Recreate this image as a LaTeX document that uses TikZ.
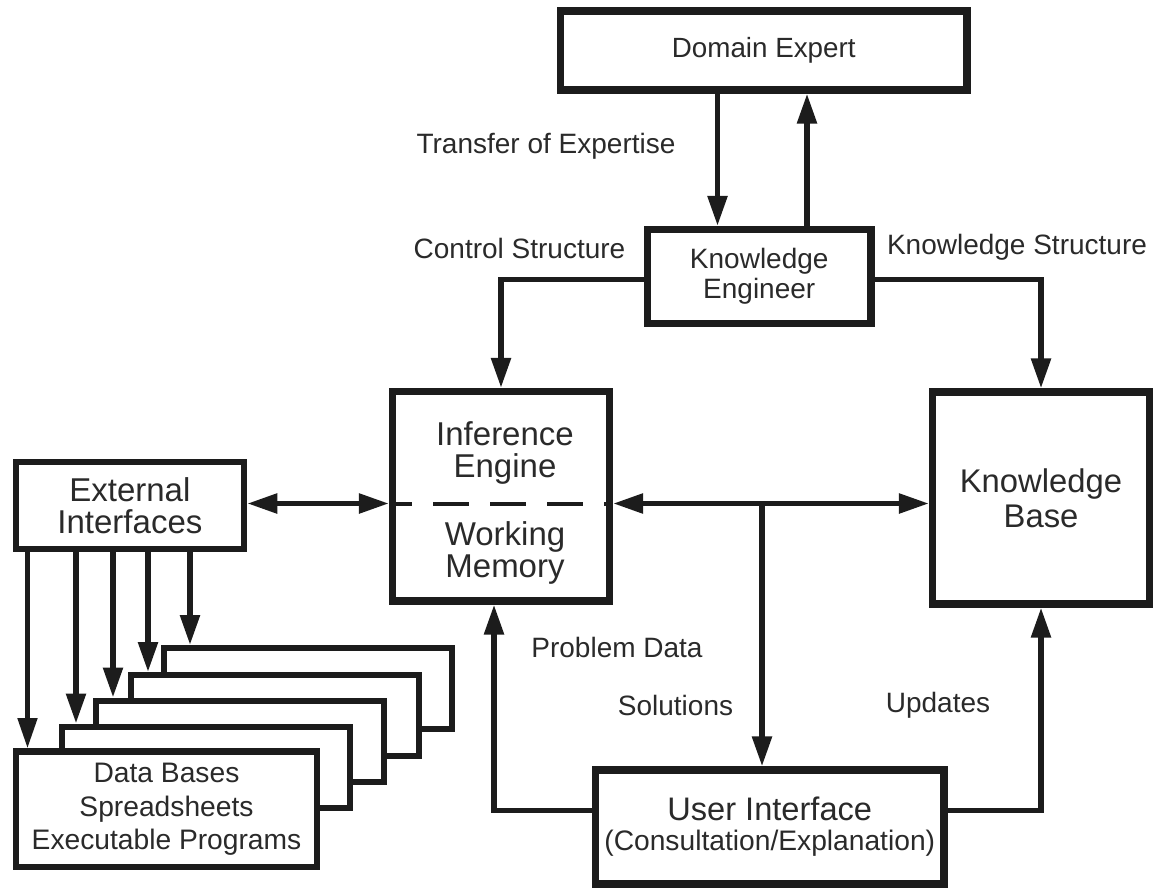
\documentclass[tikz,border=0pt]{standalone}
\usepackage{fontspec}
\setmainfont{Liberation Sans}
\usetikzlibrary{arrows.meta}
\definecolor{ink}{HTML}{1C1C1C}
\definecolor{txt}{HTML}{2A2A2A}

\begin{document}
\begin{tikzpicture}[x=0.5pt,y=-0.5pt,
  every node/.style={text=txt},
  box/.style={draw=ink, line width=3.6pt, fill=white, inner sep=0pt, align=center},
  stackbox/.style={draw=ink, line width=3pt, fill=white, inner sep=0pt, align=center},
  conn/.style={draw=ink, line width=2.75pt, -{Triangle[length=15pt,width=9.5pt]}},
  biconn/.style={draw=ink, line width=2.75pt, {Triangle[length=15pt,width=9.5pt]}-{Triangle[length=15pt,width=9.5pt]}},
  lbl/.style={anchor=base, inner sep=0pt, font=\fontsize{14}{15}\selectfont},
  bigtext/.style={anchor=base, inner sep=0pt, align=center, font=\fontsize{16.5}{16}\selectfont},
]
\useasboundingbox (0,0) rectangle (1160,888);

% ---- main boxes ----
\node[box, minimum width=203.25pt, minimum height=39.5pt,
      font=\fontsize{13.9}{15}\selectfont] (DE) at (763.75,50.5) {Domain Expert};
\node[box, minimum width=111.75pt, minimum height=47pt,
      font=\fontsize{14}{15}\selectfont] (KE) at (759.25,276.5) {Knowledge\\Engineer};
\node[box, minimum width=108.5pt, minimum height=104.75pt] (IE) at (501,496.25) {};
\node[box, minimum width=108.5pt, minimum height=106pt,
      font=\fontsize{16.4}{17.5}\selectfont] (KB) at (1041,498) {Knowledge\\Base};
\node[box, line width=3pt, minimum width=114.4pt, minimum height=43.25pt,
      font=\fontsize{16.5}{16}\selectfont] (EI) at (129.9,505.25) {External\\Interfaces};
\node[box, minimum width=174.25pt, minimum height=57pt,
      font=\fontsize{14.1}{15}\selectfont] (UI) at (769.75,827)
      {{\fontsize{16.3}{15}\selectfont User Interface}\\(Consultation/Explanation)};

% ---- stacked external resources, back to front ----
\node[stackbox, minimum width=144pt, minimum height=40.5pt] (B5) at (307.5,688.5) {};
\node[stackbox, minimum width=144pt, minimum height=40.5pt] (B4) at (274.5,715.5) {};
\node[stackbox, minimum width=144pt, minimum height=40.5pt] (B3) at (240,741) {};
\node[stackbox, minimum width=144pt, minimum height=40.5pt] (B2) at (205.5,767) {};
\node[stackbox, line width=3.3pt, minimum width=150.5pt, minimum height=57.75pt,
      font=\fontsize{14.1}{16.75}\selectfont] (FB) at (166.5,809.25)
      {Data Bases\\Spreadsheets\\Executable Programs};

% ---- inference engine / working memory split ----
\coordinate (row) at (762,503.5);
\draw[ink, line width=2pt, dash pattern=on 18pt off 10.5pt, dash phase=6.45pt]
  (IE.west |- row) -- (IE.east |- row);
\node[bigtext] (IEtop) at (505,477) {Inference\\Engine};
\node[bigtext] (IEbot) at (505,577) {Working\\Memory};

% ---- routing coordinates ----
\coordinate (down) at (717.5,0);
\coordinate (upc) at (807,0);
\coordinate (branch) at (0,279.5);
\coordinate (pd) at (494,810.5);
\coordinate (upd) at (1041,810.5);
\coordinate (s1) at (27.5,0);
\coordinate (s2) at (76,0);
\coordinate (s3) at (113,0);
\coordinate (s4) at (148,0);
\coordinate (s5) at (190,0);

% ---- connectors ----
\draw[conn] (DE.south -| down) -- (KE.north -| down);
\draw[conn] (KE.north -| upc) -- (DE.south -| upc);
\draw[conn] (KE.west |- branch) -| (IE.north);
\draw[conn] (KE.east |- branch) -| (KB.north);
\draw[biconn] (EI.east |- row) -- (IE.west |- row);
\draw[biconn] (IE.east |- row) -- (KB.west |- row);
\draw[conn] (row) -- (UI.north -| row);
\draw[conn] (UI.west |- pd) -| (IE.south -| pd);
\draw[conn] (UI.east |- upd) -| (KB.south);

\draw[conn, line width=2.3pt] (EI.south -| s1) -- (FB.north -| s1);
\draw[conn] (EI.south -| s2) -- (B2.north -| s2);
\draw[conn] (EI.south -| s3) -- (B3.north -| s3);
\draw[conn] (EI.south -| s4) -- (B4.north -| s4);
\draw[conn] (EI.south -| s5) -- (B5.north -| s5);

% ---- connector labels ----
\node[lbl] (lTE) at (546,153.5) {Transfer of Expertise};
\node[lbl] (lCS) at (519.5,258) {Control Structure};
\node[lbl] (lKS) at (1017,254) {Knowledge Structure};
\node[lbl] (lPD) at (617,657) {Problem Data};
\node[lbl] (lSO) at (675.5,715) {Solutions};
\node[lbl] (lUP) at (938,712) {Updates};
\end{tikzpicture}
\end{document}
